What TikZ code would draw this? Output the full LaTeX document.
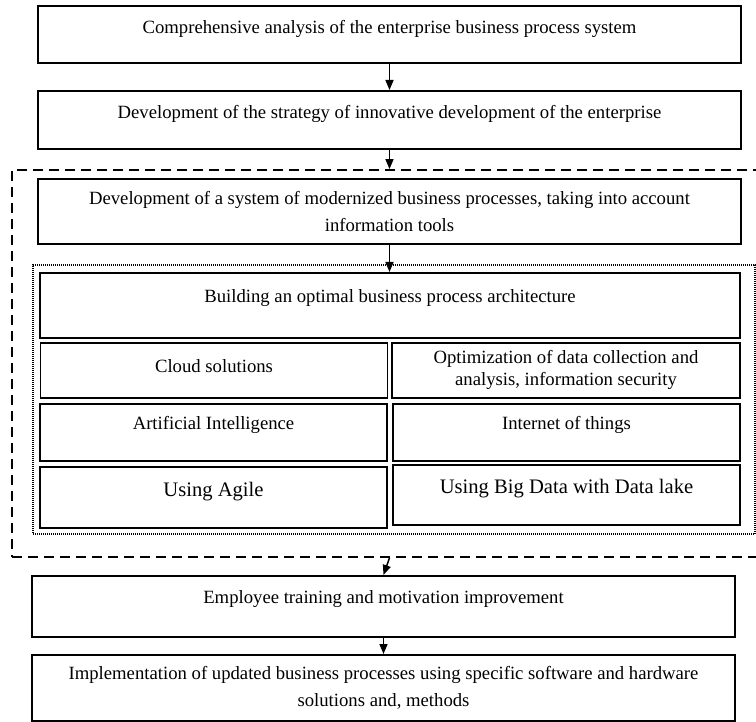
\documentclass[tikz,border=0pt]{standalone}
\usepackage{fontspec}
\setmainfont{Liberation Serif}
\usepackage{tikz}
\usetikzlibrary{positioning, arrows.meta}

\begin{document}
\begin{tikzpicture}[x=0.5pt, y=-0.5pt,
  font=\fontsize{9.35}{13.5}\selectfont,
  box/.style={draw, line width=0.9pt, inner xsep=0pt, align=center, anchor=north},
  one/.style={box, inner ysep=0pt},
  two/.style={box, inner ysep=3pt},
  wide/.style={minimum width=351.5pt},
  half/.style={minimum width=173.5pt},
  big/.style={font=\fontsize{10.3}{13.5}\selectfont},
  grp/.style={draw, dash pattern=on 5pt off 3pt, line width=0.9pt, inner sep=0pt},
  sub/.style={draw, dash pattern=on 0.5pt off 0.5pt, line width=0.6pt, inner sep=0pt},
  arr/.style={line width=0.75pt, -{Triangle[length=5pt, width=4pt]}}]
  \useasboundingbox (0,0) rectangle (756,722);
  \node[grp, minimum width=375pt, minimum height=193.5pt] (outer) at (387,363.5) {};
  \node[sub, minimum width=361pt, minimum height=134.5pt] (inner) at (394,399.5) {};
  \node[one, wide, text height=14pt, text depth=14.5pt] (b1) at (389.5,5)
    {Comprehensive analysis of the enterprise business process system};
  \node[one, wide, text height=14pt, text depth=15pt] (b2) at (389.5,90)
    {Development of the strategy of innovative development of the enterprise};
  \node[two, wide, minimum height=32.5pt] (b3) at (389.5,178)
    {Development of a system of modernized business processes, taking into account\\information tools};
  \node[one, minimum width=350pt, text height=15pt, text depth=17.5pt] (b4) at (390,272)
    {Building an optimal business process architecture};
  \node[one, half, text height=15pt, text depth=12.5pt] (cloud) at (214,342) {Cloud solutions};
  \node[two, font=\fontsize{9.35}{11}\selectfont, minimum width=174pt, minimum height=27.5pt] (data) at (566,342)
    {Optimization of data collection and\\analysis, information security};
  \node[one, half, text height=13pt, text depth=15.5pt] (ai) at (213.5,403) {Artificial Intelligence};
  \node[one, half, text height=13pt, text depth=15.5pt] (iot) at (566.5,403) {Internet of things};
  \node[one, half, big, text height=15pt, text depth=15.5pt] (agile) at (213.5,466) {Using Agile};
  \node[one, half, big, text height=14.5pt, text depth=15.5pt] (lake) at (566.5,464) {Using Big Data with Data lake};
  \node[one, wide, text height=14pt, text depth=16.5pt] (b6) at (383.5,575)
    {Employee training and motivation improvement};
  \node[two, wide, minimum height=33pt] (b7) at (383.5,654)
    {Implementation of updated business processes using specific software and hardware\\solutions and, methods};
  \draw[arr] (b1.south) -- (b2.north);
  \draw[arr] (b2.south) -- (b2.south |- outer.north);
  \draw[arr] (b3.south) -- (b3.south |- b4.north);
  \draw[arr] (b3.south |- outer.south) -- (b6.north);
  \draw[arr] (b6.south) -- (b7.north);
\end{tikzpicture}
\end{document}
